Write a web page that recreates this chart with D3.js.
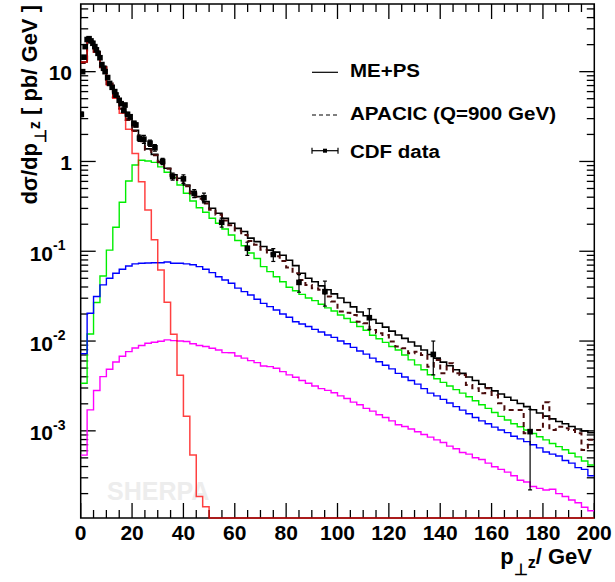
<!DOCTYPE html>
<html><head><meta charset="utf-8">
<script src="https://cdn.jsdelivr.net/npm/d3@7"></script>
<style>
body{margin:0;background:#fff}
svg{display:block}
text{font-family:"Liberation Sans",Arial,Helvetica,sans-serif;font-weight:bold}
</style></head>
<body><svg id="c" width="615" height="582"></svg>
<script>
// ---- data ----
const binWidth = 2.5;
const xEdges = d3.range(0, 200 + 1e-9, binWidth); // 81 bin edges, 0..200 GeV

// ME+PS total (black solid)
const meps = [12.8,21.8,16.6,11.4,7.26,5.31,3.86,2.96,2.22,1.71,
 1.38,1.2,1.0,0.84,0.71,0.65,0.547,0.461,0.406,0.357,
 0.301,0.265,0.233,0.205,0.18,0.166,0.14,0.128,0.113,0.103,
 0.0977,0.0902,0.0794,0.0692,0.0569,0.0501,0.0457,0.0412,0.0372,0.0335,
 0.0302,0.0269,0.024,0.0211,0.0191,0.0174,0.0158,0.0143,0.0129,0.0117,
 0.0107,0.00977,0.00881,0.00794,0.00708,0.00646,0.00582,0.00531,0.00479,0.00437,
 0.00398,0.00363,0.00331,0.00302,0.00279,0.00257,0.00237,0.00219,0.00202,0.00186,
 0.00172,0.00158,0.00146,0.00136,0.00127,0.0012,0.00112,0.00105,0.001,0.000955];

// APACIC (Q=900 GeV) (dashed)
const apacic = [12.5,21.5,16.8,11.2,7.4,5.2,3.9,2.9,2.18,1.68,
 1.35,1.17,0.98,0.83,0.69,0.62,0.53,0.44,0.385,0.34,
 0.29,0.255,0.22,0.195,0.17,0.152,0.13,0.118,0.104,0.094,
 0.088,0.078,0.066,0.057,0.0479,0.0422,0.0387,0.0372,0.0313,0.0275,
 0.0213,0.0207,0.0195,0.0164,0.0158,0.0133,0.0122,0.0117,0.00986,0.00867,
 0.00832,0.00731,0.00762,0.007,0.00519,0.00617,0.00438,0.00566,0.00438,0.0042,
 0.00324,0.00298,0.00262,0.00298,0.00251,0.00203,0.00171,0.00171,0.00171,0.00094,
 0.00102,0.00102,0.00208,0.00102,0.00111,0.00107,0.00102,0.00094,0.000612,0.000794];

// 0 jet (red)
const jet0 = [12.8,21.5,16.5,11.3,7.1,5.06,3.44,2.28,1.23,0.596,
 0.288,0.134,0.0619,0.027,0.0119,0.00416,0.00145,0.000537,0.000186,0.000143,
 0,0,0,0,0,0,0,0,0,0, 0,0,0,0,0,0,0,0,0,0,
 0,0,0,0,0,0,0,0,0,0, 0,0,0,0,0,0,0,0,0,0,
 0,0,0,0,0,0,0,0,0,0, 0,0,0,0,0,0,0,0,0,0];

// 1 jet (green)
const jet1 = [0.00339,0.012,0.0269,0.0531,0.103,0.185,0.352,0.607,0.912,1.03,
 1.01,0.977,0.871,0.759,0.661,0.547,0.442,0.363,0.305,0.272,
 0.233,0.205,0.177,0.152,0.132,0.115,0.0955,0.0832,0.0675,0.0593,
 0.0521,0.0458,0.0398,0.0363,0.0331,0.0302,0.0282,0.0257,0.0234,0.0216,
 0.0195,0.0178,0.0162,0.0145,0.0132,0.0116,0.0106,0.00966,0.00871,0.00794,
 0.007,0.00617,0.00543,0.00479,0.00422,0.0038,0.00347,0.00316,0.00288,0.00263,
 0.0024,0.00216,0.00195,0.00178,0.0016,0.00145,0.00132,0.0012,0.00111,0.00102,
 0.000933,0.000861,0.000794,0.000724,0.000668,0.000617,0.000562,0.000513,0.000462,0.000417];

// 2 jets (blue)
const jet2 = [0.00724,0.0204,0.0313,0.0422,0.0501,0.0569,0.0631,0.0686,0.0723,0.0735,
 0.0741,0.0746,0.0746,0.0759,0.0735,0.0735,0.0724,0.0708,0.0675,0.0631,
 0.0578,0.0521,0.0479,0.044,0.0389,0.0355,0.0326,0.0292,0.0263,0.0242,
 0.0222,0.02,0.0184,0.0164,0.0155,0.0145,0.0135,0.0126,0.0117,0.011,
 0.01,0.00933,0.00851,0.00776,0.00716,0.00646,0.00589,0.00537,0.0049,0.00437,
 0.00398,0.00363,0.00331,0.00295,0.00263,0.00245,0.00224,0.00204,0.00186,0.0017,
 0.00155,0.00141,0.00129,0.0012,0.0011,0.00102,0.000955,0.000871,0.000813,0.000759,
 0.0007,0.000646,0.000582,0.00055,0.000525,0.000468,0.000437,0.000389,0.000372,0.000316];

// 3 jets (magenta)
const jet3 = [0.000537,0.00171,0.00281,0.00402,0.00485,0.00585,0.00676,0.00762,0.00838,0.00891,
 0.00944,0.0097,0.00995,0.0103,0.0101,0.01,0.00989,0.00933,0.00891,0.00871,
 0.00832,0.00794,0.00743,0.00741,0.00682,0.00646,0.00605,0.00575,0.00528,0.00519,
 0.00498,0.00457,0.0042,0.00395,0.00363,0.00339,0.00316,0.00295,0.00282,0.00266,
 0.00245,0.00229,0.00209,0.00195,0.00178,0.00166,0.00151,0.00141,0.00129,0.00117,
 0.00112,0.00105,0.000977,0.000912,0.000851,0.000794,0.000741,0.000676,0.000631,0.000575,
 0.00055,0.000501,0.000479,0.000437,0.000398,0.000372,0.000347,0.000316,0.000282,0.000269,
 0.00024,0.000229,0.000219,0.000224,0.0002,0.000186,0.00017,0.000158,0.000141,0.000129];

// CDF data
const cdfPt  = [0.25,0.75,1.25,1.75,2.5,3.25,4.0,4.75,5.5,6.1,6.75,7.5,8.25,8.9,9.5,10.5,11.25,12.25,13.25,13.75,
 15.0,15.75,16.75,17.25,18.25,19.25,20.75,21.5,22.9,24.6,27.0,28.9,31.9,35.8,40.0,44.2,48.0,54.9,64.9,75.0,
 85.0,95.1,112.4,137.3,175.0];
const cdfVal = [3.35,10.0,14.5,19.0,22.8,23.3,22.0,20.7,19.0,17.5,16.0,14.3,12.0,10.9,10.0,8.6,7.4,6.7,6.0,5.5,
 4.8,4.4,3.7,4.25,3.35,3.15,2.66,2.55,1.82,1.77,1.6,1.42,1.0,0.68,0.64,0.44,0.395,0.21,0.108,0.092,
 0.045,0.0355,0.0182,0.0071,0.00098];
const cdfErr = [0.2,0.4,0.5,0.6,0.7,0.7,0.7,0.6,0.6,0.6,0.5,0.5,0.4,0.4,0.4,0.35,0.3,0.3,0.25,0.25,
 0.2,0.2,0.2,0.2,0.17,0.15,0.13,0.13,0.15,0.18,0.13,0.12,0.08,0.06,0.07,0.045,0.05,0.024,0.018,0.015,
 0.01,0.011,0.0047,0.0029,0.00076];

const xTickValues = [0,20,40,60,80,100,120,140,160,180,200];
const yTickValues = [10,1,0.1,0.01,0.001];
const yTickBase = ["10","1","10","10","10"];
const yTickExp  = ["","","-1","-2","-3"];

const legendLabels = ["ME+PS","APACIC (Q=900 GeV)","CDF data"];

// ---- layout ----
const L = 80.7, R = 594.3, T = 4, B = 518;
const svg = d3.select("#c");
const x = d3.scaleLinear().domain([0,200]).range([L,R]);
const y = d3.scaleLog().domain([1.07e-4, 56.7]).range([B,T]).clamp(true);

svg.append("defs").append("clipPath").attr("id","plot")
  .append("rect").attr("x",L).attr("y",T-1).attr("width",R-L).attr("height",B-T+2);

// watermark
svg.append("text").attr("x",107).attr("y",500).attr("font-size",25)
  .attr("fill","#ededed").text("SHERPA");

// frame
svg.append("rect").attr("x",L).attr("y",T).attr("width",R-L).attr("height",B-T)
  .attr("fill","none").attr("stroke","#000").attr("stroke-width",1.5);

// x ticks (bottom & top)
const xt = x.ticks(40);
xt.forEach(v=>{
  const major = Math.abs(v % 20) < 1e-9;
  const len = major ? 15 : 8;
  svg.append("line").attr("x1",x(v)).attr("x2",x(v)).attr("y1",B).attr("y2",B-len)
     .attr("stroke","#000").attr("stroke-width",1.3);
  svg.append("line").attr("x1",x(v)).attr("x2",x(v)).attr("y1",T).attr("y2",T+len)
     .attr("stroke","#000").attr("stroke-width",1.3);
});
// y ticks (left & right)
y.ticks().forEach(v=>{
  const lg = Math.log10(v);
  const major = Math.abs(lg - Math.round(lg)) < 1e-6;
  const len = major ? 15 : 7.5;
  svg.append("line").attr("x1",L).attr("x2",L+len).attr("y1",y(v)).attr("y2",y(v))
     .attr("stroke","#000").attr("stroke-width",1.3);
  svg.append("line").attr("x1",R).attr("x2",R-len).attr("y1",y(v)).attr("y2",y(v))
     .attr("stroke","#000").attr("stroke-width",1.3);
});

// x tick labels
xTickValues.forEach(v=>{
  svg.append("text").attr("x",x(v)).attr("y",540).attr("text-anchor","middle")
     .attr("font-size",21).text(v);
});
// y tick labels
yTickValues.forEach((v,i)=>{
  const yy = y(v);
  if (yTickExp[i] === "") {
    svg.append("text").attr("x",72).attr("y",yy+8.5).attr("text-anchor","end")
       .attr("font-size",21).text(yTickBase[i]);
  } else {
    svg.append("text").attr("x",53).attr("y",yy+9.5).attr("text-anchor","end")
       .attr("font-size",21).text(yTickBase[i]);
    svg.append("text").attr("x",53).attr("y",yy-1).attr("text-anchor","start")
       .attr("font-size",14).text(yTickExp[i]);
  }
});

// axis titles
const yt = svg.append("text").attr("transform","translate(37,5) rotate(-90)")
  .attr("text-anchor","end").attr("font-size",22);
yt.append("tspan").text("d\u03C3/dp");
yt.append("tspan").attr("font-size",16).attr("dy",9).text("\u22A5");
yt.append("tspan").attr("font-size",16).attr("dy",-6).text("z");
yt.append("tspan").attr("dy",-3).text(" [ pb/ GeV ]");

const xtl = svg.append("text").attr("x",592).attr("y",564)
  .attr("text-anchor","end").attr("font-size",22);
xtl.append("tspan").text("p");
xtl.append("tspan").attr("font-size",16).attr("dy",11).text("\u22A5");
xtl.append("tspan").attr("font-size",16).attr("dy",-7).text("z");
xtl.append("tspan").attr("dy",-4).text("/ GeV");

// histograms
const line = d3.line().x(d=>x(d[0])).y(d=>y(d[1]));
function histPts(vals){
  const pts = [];
  vals.forEach((v,i)=>{
    const vv = v > 0 ? v : 1e-9;
    pts.push([xEdges[i], vv]); pts.push([xEdges[i+1], vv]);
  });
  return pts;
}
const g = svg.append("g").attr("clip-path","url(#plot)");
function drawHist(vals, color, width, dash, op){
  g.append("path").attr("d", line(histPts(vals))).attr("fill","none")
   .attr("stroke",color).attr("stroke-width",width)
   .attr("stroke-dasharray",dash||null).attr("stroke-opacity",op||1)
   .attr("stroke-linejoin","miter");
}
drawHist(jet1, "#00ee00", 1.4);
drawHist(jet2, "#0000ff", 1.4);
drawHist(jet3, "#ff00ff", 1.4);
drawHist(meps, "#000000", 1.6);
drawHist(apacic, "#4a0c0c", 2, "5,4");
drawHist(jet0, "#ff0000", 1.5, null, 0.75);

// CDF data
const dg = svg.append("g").attr("clip-path","url(#plot)");
cdfPt.forEach((p,i)=>{
  const v = cdfVal[i], e = cdfErr[i];
  const px = x(p);
  const y1 = y(v+e), y2 = y(Math.max(v-e, 1e-9));
  dg.append("line").attr("x1",px).attr("x2",px).attr("y1",y1).attr("y2",y2)
    .attr("stroke","#000").attr("stroke-width",1.2);
  [y1,y2].forEach(yy=>{
    dg.append("line").attr("x1",px-2).attr("x2",px+2).attr("y1",yy).attr("y2",yy)
      .attr("stroke","#000").attr("stroke-width",1.2);
  });
  dg.append("rect").attr("x",px-2.8).attr("y",y(v)-2.8).attr("width",5.6).attr("height",5.6)
    .attr("fill","#000");
});

// legend
const lx1 = 312, lx2 = 338;
const legY = [72.3, 115, 150.7];
const legBase = [77.3, 120, 158.3];
const legW = [70, 206, 90];
svg.append("line").attr("x1",lx1).attr("x2",lx2).attr("y1",legY[0]).attr("y2",legY[0])
   .attr("stroke","#000").attr("stroke-width",1.2);
svg.append("line").attr("x1",lx1).attr("x2",lx2).attr("y1",legY[1]).attr("y2",legY[1])
   .attr("stroke","#000").attr("stroke-width",1.2).attr("stroke-dasharray","4,3");
svg.append("line").attr("x1",lx1).attr("x2",lx2).attr("y1",legY[2]).attr("y2",legY[2])
   .attr("stroke","#000").attr("stroke-width",1.2);
[lx1,lx2].forEach(xx=>svg.append("line").attr("x1",xx).attr("x2",xx)
   .attr("y1",legY[2]-3).attr("y2",legY[2]+3).attr("stroke","#000").attr("stroke-width",1.2));
svg.append("rect").attr("x",(lx1+lx2)/2-2).attr("y",legY[2]-2).attr("width",4).attr("height",4).attr("fill","#000");
legendLabels.forEach((t,i)=>{
  svg.append("text").attr("x",350).attr("y",legBase[i]).attr("font-size",17.5)
     .attr("textLength",legW[i]).attr("lengthAdjust","spacingAndGlyphs").text(t);
});
</script>
</body></html>
